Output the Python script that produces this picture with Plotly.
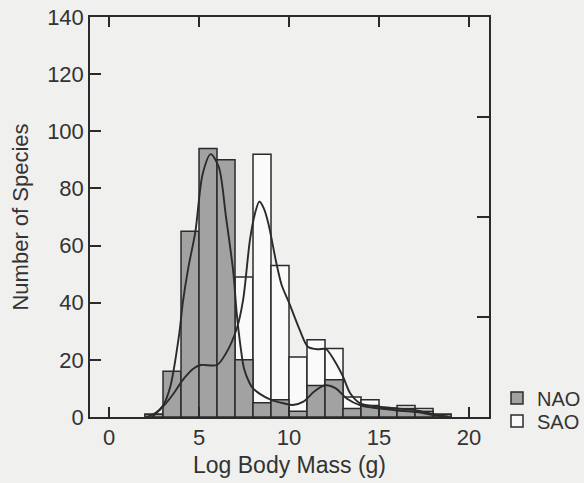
import plotly.graph_objects as go

# Histogram bins (width 1, left edges)
bin_left = [2, 3, 4, 5, 6, 7, 8, 9, 10, 11, 12, 13, 14, 15, 16, 17, 18]
nao_counts = [1, 16, 65, 94, 90, 20, 5, 6, 2, 11, 13, 3, 4, 3, 3, 2, 1]
sao_counts = [1, 2, 8, 17, 18, 49, 92, 53, 21, 27, 24, 7, 6, 3, 4, 3, 1]

# Smoothed density curves (in count units)
nao_curve_x = [2.1, 2.6, 3.0, 3.4, 3.9, 4.1, 4.4, 4.8, 5.2, 5.65, 6.1, 6.5, 6.9, 7.1, 7.3,
               7.5, 7.8, 8.0, 8.4, 9.0, 9.7, 10.2, 10.8, 11.4, 12.0, 12.6, 13.2, 14.0,
               15.0, 16.0, 17.0, 18.0, 18.9]
nao_curve_y = [0, 1.5, 4, 10.5, 29, 40, 52, 65, 85, 92, 87.5, 70, 51, 36, 25,
               17, 12, 10, 8, 6, 4.8, 4.2, 5.4, 8.9, 11.1, 10, 6.5, 4,
               3, 2.3, 1.8, 0.7, 0]
sao_curve_x = [2.4, 3.0, 3.6, 4.1, 4.7, 5.1, 6.0, 6.5, 7.1, 7.45, 7.83, 8.1, 8.35, 8.6,
               8.85, 9.3, 9.6, 10.0, 10.6, 11.05, 11.6, 12.05, 12.55, 13.0, 13.4, 13.95,
               15.0, 16.0, 17.0, 18.0, 18.9]
sao_curve_y = [0, 3.6, 8.3, 13, 17, 18.2, 18.2, 22.3, 31, 41, 62, 71, 75.4, 73,
               67.8, 53.8, 46, 40, 30.4, 24.6, 23.7, 23.8, 19.4, 14.1, 8.3, 4.8,
               3.6, 3.0, 2.4, 1.0, 0]

x_ticks = [0, 5, 10, 15, 20]
y_ticks = [0, 20, 40, 60, 80, 100, 120, 140]

bin_centers = [b + 0.5 for b in bin_left]

ink = "#2b2b2b"
font = dict(family="Liberation Sans, Arial, sans-serif", size=22, color="#333333")
bg = "#f0f0ee"

fig = go.Figure()
fig.add_trace(go.Bar(
    x=bin_centers, y=sao_counts, width=1, name="SAO", legend="legend2",
    marker=dict(color="#fafafa", line=dict(color=ink, width=1.5)),
))
fig.add_trace(go.Bar(
    x=bin_centers, y=nao_counts, width=1, name="NAO", legend="legend",
    marker=dict(color="#a2a2a2", line=dict(color=ink, width=1.5)),
))
fig.add_trace(go.Scatter(
    x=nao_curve_x, y=nao_curve_y, mode="lines", showlegend=False,
    line=dict(color=ink, width=1.9, shape="spline", smoothing=0.8),
))
fig.add_trace(go.Scatter(
    x=sao_curve_x, y=sao_curve_y, mode="lines", showlegend=False,
    line=dict(color=ink, width=1.9, shape="spline", smoothing=0.8),
))
# invisible trace to carry the right-hand axis
fig.add_trace(go.Scatter(x=[0], y=[0], yaxis="y2", mode="markers",
                         marker=dict(opacity=0), showlegend=False, hoverinfo="skip"))

leg_common = dict(xref="container", yref="container", xanchor="left", yanchor="middle",
                  bgcolor="rgba(0,0,0,0)", font=dict(size=20, color="#333333"),
                  itemwidth=30)

fig.update_layout(
    width=584, height=483,
    margin=dict(l=90, r=95, t=17, b=66, autoexpand=False),
    paper_bgcolor=bg, plot_bgcolor=bg,
    barmode="overlay",
    font=font,
    showlegend=True,
    legend=dict(x=497 / 584, y=1 - 398 / 483, **leg_common),
    legend2=dict(x=497 / 584, y=1 - 421 / 483, **leg_common),
    xaxis=dict(
        range=[-1.056, 21.11], tickvals=x_ticks, ticktext=[str(v) for v in x_ticks],
        ticks="inside", ticklen=10, tickwidth=1.5, tickcolor=ink,
        showline=True, linecolor=ink, linewidth=1.5, mirror="ticks",
        showgrid=False, zeroline=False, automargin=False,
        title=dict(text="Log Body Mass (g)", standoff=8, font=dict(size=23)),
    ),
    yaxis=dict(
        range=[0, 140], tickvals=y_ticks,
        ticks="inside", ticklen=11, tickwidth=1.5, tickcolor=ink,
        showline=True, linecolor=ink, linewidth=1.5, mirror=False,
        showgrid=False, zeroline=False, automargin=False,
        ticklabelstandoff=0,
        title=dict(text="Number of Species", standoff=12, font=dict(size=22)),
    ),
    yaxis2=dict(
        range=[0, 4], dtick=1, overlaying="y", side="right",
        ticks="inside", ticklen=12, tickwidth=1.5, tickcolor=ink,
        showline=True, linecolor=ink, linewidth=1.5, automargin=False,
        showticklabels=False, showgrid=False, zeroline=False,
    ),
)

fig.write_html(
    "out.html",
    config={"displayModeBar": False},
    post_script="document.body.style.margin='0';document.body.style.background='%s';" % bg,
)
